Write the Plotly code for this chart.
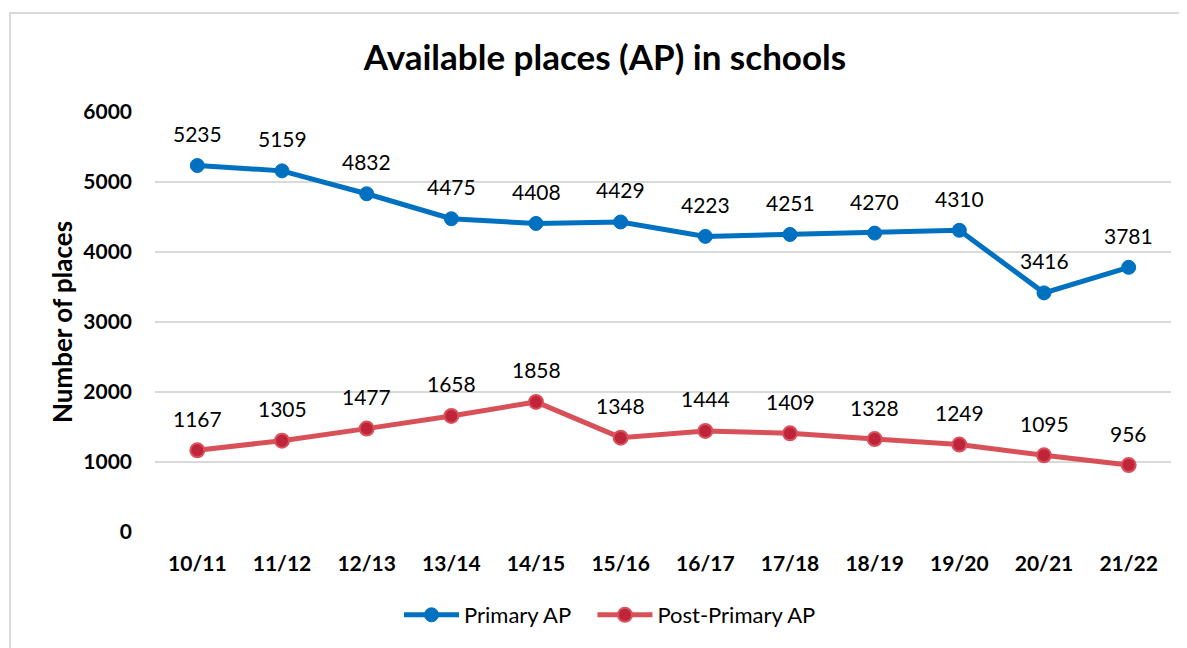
import plotly.graph_objects as go

years = ["10/11", "11/12", "12/13", "13/14", "14/15", "15/16", "16/17", "17/18", "18/19", "19/20", "20/21", "21/22"]
primary_ap = [5235, 5159, 4832, 4475, 4408, 4429, 4223, 4251, 4270, 4310, 3416, 3781]
post_primary_ap = [1167, 1305, 1477, 1658, 1858, 1348, 1444, 1409, 1328, 1249, 1095, 956]
series_names = ["Primary AP", "Post-Primary AP"]

FONT = "Lato"
OFF = 8  # page body margin
W, H = 1187 - OFF, 648 - OFF
ML, MT = 155 - OFF, 112 - OFF
PW, PH = 1016, 420
MR, MB = W - ML - PW, H - MT - PH

def px(X):
    return (X - 155) / PW

def py(Y):
    return (532 - Y) / PH

NB = "\u00a0" * 3

fig = go.Figure()
fig.add_trace(go.Scatter(
    x=years, y=primary_ap, name=series_names[0] + NB, mode="lines+markers",
    line=dict(color="#0070C0", width=5),
    marker=dict(color="#0070C0", size=14, line=dict(color="#0070C0", width=1)),
))
fig.add_trace(go.Scatter(
    x=years, y=post_primary_ap, name=series_names[1], mode="lines+markers",
    line=dict(color="rgba(214,66,74,0.92)", width=5),
    marker=dict(color="#C0243A", size=14, line=dict(color="#D9515B", width=2)),
))

ann = []
for xs, ys in [(years, primary_ap), (years, post_primary_ap)]:
    for xv, yv in zip(xs, ys):
        ann.append(dict(x=xv, y=yv, text=str(yv), showarrow=False, yshift=32,
                        font=dict(family=FONT, size=21, color="#000000")))

ann.append(dict(xref="paper", yref="paper", x=px(62), y=py(322), xanchor="center", yanchor="middle",
                text="<b>Number of places</b>",
                textangle=-90, showarrow=False, font=dict(family=FONT, size=26, color="#000000")))

fig.update_layout(
    width=W, height=H,
    margin=dict(l=ML, r=MR, t=MT, b=MB),
    paper_bgcolor="white", plot_bgcolor="white",
    title=dict(text="<b>Available places (AP) in schools</b>", x=(605 - OFF) / W, xanchor="center",
               y=1 - (58 - OFF) / H, yanchor="middle", yref="container",
               font=dict(family=FONT, size=35, color="#000000")),
    xaxis=dict(type="category", range=[-0.5, 11.5], showgrid=False, zeroline=False, showline=False,
               ticks="", tickfont=dict(family=FONT, size=21, color="#000000"),
               ticklabelstandoff=17, tickprefix="<b>", ticksuffix="</b>"),
    yaxis=dict(range=[0, 6000], dtick=1000, showgrid=True, gridcolor="#D9D9D9", gridwidth=1.5,
               zeroline=False, showline=False, ticks="",
               tickfont=dict(family=FONT, size=21, color="#000000"),
               ticklabelstandoff=22, tickprefix="<b>", ticksuffix="</b>", tickformat="d"),
    showlegend=True,
    legend=dict(orientation="h", x=px(610), xanchor="center", y=py(615),
                yanchor="middle", font=dict(family=FONT, size=22, color="#000000"),
                itemwidth=55, bgcolor="rgba(0,0,0,0)"),
    annotations=ann,
    shapes=[dict(type="rect", xref="paper", yref="paper",
                 x0=px(10), x1=px(1187 + 20),
                 y0=py(648 + 20), y1=py(13),
                 line=dict(color="#D9D9D9", width=2), fillcolor="rgba(0,0,0,0)", layer="below")],
)

fig.write_html("out.html")
